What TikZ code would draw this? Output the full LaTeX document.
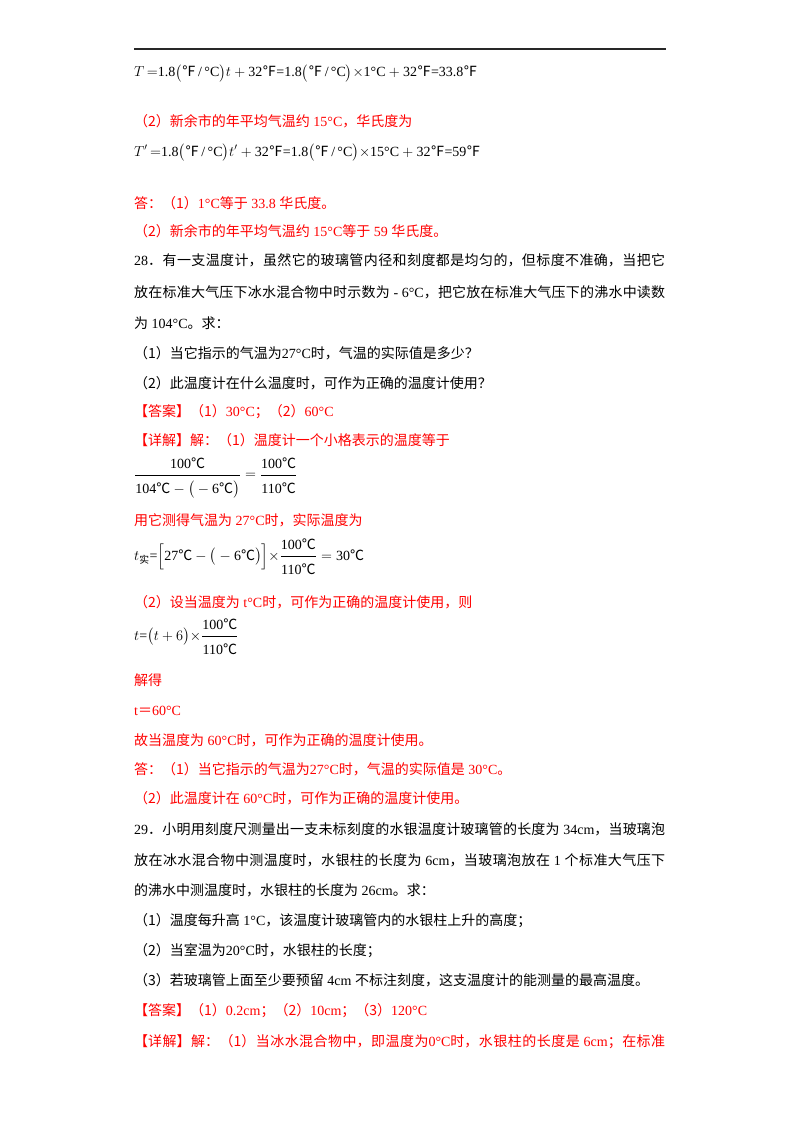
\documentclass[tikz,border=0pt]{standalone}
\usepackage{amsmath}
\usepackage{fontspec}
\setmainfont{Liberation Serif}
\newfontfamily\cjk{Noto Sans CJK SC}
\usetikzlibrary{positioning}
\definecolor{KeyRed}{RGB}{255,0,0}
\definecolor{RuleGray}{RGB}{40,40,40}
\XeTeXlinebreaklocale "zh"
\XeTeXlinebreakskip=0pt plus 2pt minus 0.2pt
\newcommand\zh[1]{{\cjk #1}}
\newcommand\dC{\zh{℃}}
\newcommand\dF{\zh{℉}}
\newcommand\fullline[1]{\parbox[b]{531pt}{\tolerance=10000\hbadness=10000\parfillskip=0pt\relax #1}}
\newcommand\numr[1]{\text{#1}\rule[-5pt]{0pt}{5pt}}
\newcommand\denr[1]{\rule{0pt}{16pt}#1}

\begin{document}
\begin{tikzpicture}[x=1pt, y=-1pt, font=\fontsize{14}{17}\selectfont]
      \tikzset{
        txt/.style={anchor=base west, inner sep=0pt, text=black},
        ans/.style={txt, text=KeyRed},
        eqn/.style={anchor=west, inner sep=0pt, text=black}
      }
      \path[fill=white] (0,0) rectangle (800,1132);
      \useasboundingbox (0,0) rectangle (800,1132);

      \coordinate (ruleL) at (134,49);
      \coordinate (ruleR) at (666,49);
      \draw[line width=1.5pt, RuleGray] (ruleL) -- (ruleR);

      % question 27, end of the solution
      \node[txt] (tf) at (134,77) {$T\,{=}\text{1.8}\big(\text{\dF\,/\,°C}\big)t+\text{32\dF=1.8}\big(\text{\dF\,/\,°C}\big){\times}\text{1°C}+\text{32\dF=33.8\dF}$};
      \node[ans] (xy) at (134,126) {\zh{（2）新余市的年平均气温约} 15°C\zh{，华氏度为}};
      \node[txt] (tfp) at (134,156) {$T'\,{=}\text{1.8}\big(\text{\dF\,/\,°C}\big)t'+\text{32\dF=1.8}\big(\text{\dF\,/\,°C}\big){\times}\text{15°C}+\text{32\dF=59\dF}$};
      \node[ans] (da27a) at (134,208) {\zh{答：（1）}1°C\zh{等于} 33.8 \zh{华氏度。}};
      \node[ans] (da27b) at (134,236) {\zh{（2）新余市的年平均气温约} 15°C\zh{等于} 59 \zh{华氏度。}};

      % question 28
      \node[txt] (q28a) at (134,265) {\fullline{28\zh{．有一支温度计，虽然它的玻璃管内径和刻度都是均匀的，但标度不准确，当把它}}};
      \node[txt] (q28b) at (134,297) {\fullline{\zh{放在标准大气压下冰水混合物中时示数为} - 6°C\zh{，把它放在标准大气压下的沸水中读数}}};
      \node[txt] (q28c) at (134,328) {\zh{为} 104°C\zh{。求：}};
      \node[txt] (q28d) at (134,358) {\zh{（1）当它指示的气温为}27°C\zh{时，气温的实际值是多少？}};
      \node[txt] (q28e) at (134,388) {\zh{（2）此温度计在什么温度时，可作为正确的温度计使用？}};
      \node[ans] (ans28) at (134,416) {\zh{【答案】（1）}30°C\zh{；（2）}60°C};
      \node[ans] (sol28) at (134,445) {\zh{【详解】解：（1）温度计一个小格表示的温度等于}};
      \node[eqn] (frac28) at (134,478) {$\dfrac{\numr{100\dC}}{\denr{\text{104\dC}-\big(-\text{6\dC}\big)}}=\dfrac{\numr{100\dC}}{\denr{\text{110\dC}}}$};
      \node[ans] (use28) at (134,525) {\zh{用它测得气温为} 27°C\zh{时，实际温度为}};
      \node[eqn] (tshi) at (134,557) {$t_{\text{\zh{实}}}\text{=}\Big[\text{27\dC}-\big(-\text{6\dC}\big)\Big]{\times}\dfrac{\numr{100\dC}}{\denr{\text{110\dC}}}=\text{30\dC}$};
      \node[ans] (set28) at (134,607) {\zh{（2）设当温度为} t°C\zh{时，可作为正确的温度计使用，则}};
      \node[eqn] (teq) at (134,637) {$t\text{=}\big(t+6\big){\times}\dfrac{\numr{100\dC}}{\denr{\text{110\dC}}}$};
      \node[ans] (jd) at (134,685) {\zh{解得}};
      \node[ans] (t60) at (134,715) {t\zh{＝}60°C};
      \node[ans] (gu) at (134,745) {\zh{故当温度为} 60°C\zh{时，可作为正确的温度计使用。}};
      \node[ans] (da28a) at (134,774) {\zh{答：（1）当它指示的气温为}27°C\zh{时，气温的实际值是} 30°C\zh{。}};
      \node[ans] (da28b) at (134,803) {\zh{（2）此温度计在} 60°C\zh{时，可作为正确的温度计使用。}};

      % question 29
      \node[txt] (q29a) at (134,834) {\fullline{29\zh{．小明用刻度尺测量出一支未标刻度的水银温度计玻璃管的长度为} 34cm\zh{，当玻璃泡}}};
      \node[txt] (q29b) at (134,865) {\fullline{\zh{放在冰水混合物中测温度时，水银柱的长度为} 6cm\zh{，当玻璃泡放在} 1 \zh{个标准大气压下}}};
      \node[txt] (q29c) at (134,895) {\zh{的沸水中测温度时，水银柱的长度为} 26cm\zh{。求：}};
      \node[txt] (q29d) at (134,925) {\zh{（1）温度每升高} 1°C\zh{，该温度计玻璃管内的水银柱上升的高度；}};
      \node[txt] (q29e) at (134,955) {\zh{（2）当室温为}20°C\zh{时，水银柱的长度；}};
      \node[txt] (q29f) at (134,985) {\zh{（3）若玻璃管上面至少要预留} 4cm \zh{不标注刻度，这支温度计的能测量的最高温度。}};
      \node[ans] (ans29) at (134,1015) {\zh{【答案】（1）}0.2cm\zh{；（2）}10cm\zh{；（3）}120°C};
      \node[ans] (sol29) at (134,1046) {\fullline{\zh{【详解】解：（1）当冰水混合物中，即温度为}0°C\zh{时，水银柱的长度是} 6cm\zh{；在标准}}};
    \end{tikzpicture}
\end{document}
